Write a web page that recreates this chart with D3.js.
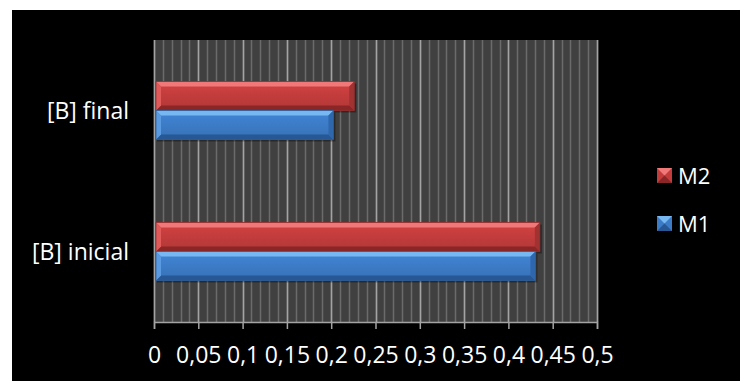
<!DOCTYPE html>
<html><head><meta charset="utf-8">
<script src="https://cdn.jsdelivr.net/npm/d3@7"></script>
<style>html,body{margin:0;padding:0;background:#fff;}svg{display:block;}</style>
</head><body>
<svg id="c" width="746" height="381"></svg>
<script>
const categories = ["[B] final", "[B] inicial"];
const seriesNames = ["M2", "M1"];
const seriesM2 = [0.226, 0.4355];
const seriesM1 = [0.2025, 0.4305];
const tickValues = [0, 0.05, 0.1, 0.15, 0.2, 0.25, 0.3, 0.35, 0.4, 0.45, 0.5];
const tickLabels = ["0", "0,05", "0,1", "0,15", "0,2", "0,25", "0,3", "0,35", "0,4", "0,45", "0,5"];
const minorTicks = d3.range(0, 51).map(i => i / 100);

const seriesValues = { M2: seriesM2, M1: seriesM1 };
const palette = {
  M2: { main: "#c23c3c", top: "#f07878", bot: "#8a2626", left: "#e05a5a", right: "#a03232" },
  M1: { main: "#3c7bc6", top: "#78b8f2", bot: "#275895", left: "#5a9ae0", right: "#2f67ad" }
};
const FONT = "'Open Sans', sans-serif";

const svg = d3.select("#c");
svg.append("rect").attr("x", 12).attr("y", 10).attr("width", 728).attr("height", 371).attr("fill", "#000");

const pL = 154, pR = 597, pT = 40, pB = 322;
const x = d3.scaleLinear().domain([0, 0.5]).range([pL, pR]);
const y = d3.scaleBand().domain(categories).range([pT, pB]).paddingInner(0.589).paddingOuter(0.2945);
const ys = d3.scaleBand().domain(seriesNames).range([0, y.bandwidth()]);

svg.append("rect").attr("x", pL).attr("y", pT).attr("width", pR - pL).attr("height", pB - pT).attr("fill", "#404040");
svg.append("g").selectAll("line").data(minorTicks).join("line")
  .attr("x1", d => Math.round(x(d)) + 0.5).attr("x2", d => Math.round(x(d)) + 0.5)
  .attr("y1", pT).attr("y2", pB).attr("stroke", "#6b6b6b").attr("stroke-width", 1.5);
svg.append("g").selectAll("line").data(tickValues).join("line")
  .attr("x1", d => Math.round(x(d)) + 0.5).attr("x2", d => Math.round(x(d)) + 0.5)
  .attr("y1", pT).attr("y2", pB).attr("stroke", "#a3a3a3").attr("stroke-width", 1.5);

const xAxis = d3.axisBottom(x).tickValues(tickValues).tickFormat((d, i) => tickLabels[i]).tickSize(7).tickPadding(18);
const gx = svg.append("g").attr("transform", `translate(0,${pB})`).call(xAxis);
gx.select(".domain").attr("stroke", "#a3a3a3").attr("stroke-width", 1.5);
gx.selectAll(".tick line").attr("stroke", "#a3a3a3").attr("stroke-width", 1.5);
gx.selectAll(".tick text").attr("fill", "#fff").attr("font-family", FONT).attr("font-size", 23).attr("dy", "0.71em");

svg.append("g").selectAll("text").data(categories).join("text")
  .attr("x", 129).attr("y", d => y(d) + y.bandwidth() / 2).attr("dy", "0.36em")
  .attr("text-anchor", "end").attr("fill", "#fff").attr("font-family", FONT).attr("font-size", 23)
  .text(d => d);

const defs = svg.append("defs");
seriesNames.forEach(s => {
  const p = palette[s];
  const g = defs.append("linearGradient").attr("id", "g" + s).attr("x1", 0).attr("y1", 0).attr("x2", 0).attr("y2", 1);
  g.append("stop").attr("offset", "0").attr("stop-color", d3.color(p.main).brighter(0.25));
  g.append("stop").attr("offset", "0.5").attr("stop-color", p.main);
  g.append("stop").attr("offset", "1").attr("stop-color", d3.color(p.main).darker(0.25));
});

const bev = 5;
const bars = [];
seriesNames.forEach(s => categories.forEach((c, i) => bars.push({ s, c, v: seriesValues[s][i] })));
const bg = svg.append("g");
bars.forEach(b => {
  const p = palette[b.s];
  const x0 = x(0) + 2, x1 = x(b.v);
  const y0 = y(b.c) + ys(b.s), h = ys.bandwidth(), y1 = y0 + h;
  const g = bg.append("g");
  g.append("rect").attr("x", x0 + 1).attr("y", y0 + 2).attr("width", x1 - x0 + 1).attr("height", h).attr("fill", "#000").attr("opacity", 0.35);
  g.append("rect").attr("x", x0).attr("y", y0).attr("width", x1 - x0).attr("height", h).attr("fill", `url(#g${b.s})`);
  const poly = pts => g.append("polygon").attr("points", pts.map(q => q.join(",")).join(" "));
  poly([[x0, y0], [x1, y0], [x1 - bev, y0 + bev], [x0 + bev, y0 + bev]]).attr("fill", p.top);
  poly([[x0, y1], [x1, y1], [x1 - bev, y1 - bev], [x0 + bev, y1 - bev]]).attr("fill", p.bot);
  poly([[x0, y0], [x0 + bev, y0 + bev], [x0 + bev, y1 - bev], [x0, y1]]).attr("fill", p.left);
  poly([[x1, y0], [x1 - bev, y0 + bev], [x1 - bev, y1 - bev], [x1, y1]]).attr("fill", p.right);
  g.append("rect").attr("x", x0).attr("y", y0).attr("width", x1 - x0).attr("height", h).attr("fill", "none").attr("stroke", d3.color(p.main).darker(0.8)).attr("stroke-width", 0.8);
});

const legendY = { M2: 176, M1: 224 };
const lg = svg.append("g");
seriesNames.forEach(s => {
  const p = palette[s];
  const cy = legendY[s];
  const mx = 657, sz = 15, my = cy - 8;
  lg.append("rect").attr("x", mx).attr("y", my).attr("width", sz).attr("height", sz).attr("fill", p.main);
  lg.append("polygon").attr("points", `${mx},${my} ${mx + sz},${my} ${mx + sz / 2},${my + sz / 2}`).attr("fill", p.top);
  lg.append("polygon").attr("points", `${mx},${my + sz} ${mx + sz},${my + sz} ${mx + sz / 2},${my + sz / 2}`).attr("fill", p.bot);
  lg.append("text").attr("x", 678).attr("y", cy).attr("dy", "0.36em").attr("fill", "#fff")
    .attr("font-family", FONT).attr("font-size", 22).text(s);
});
</script>
</body></html>
